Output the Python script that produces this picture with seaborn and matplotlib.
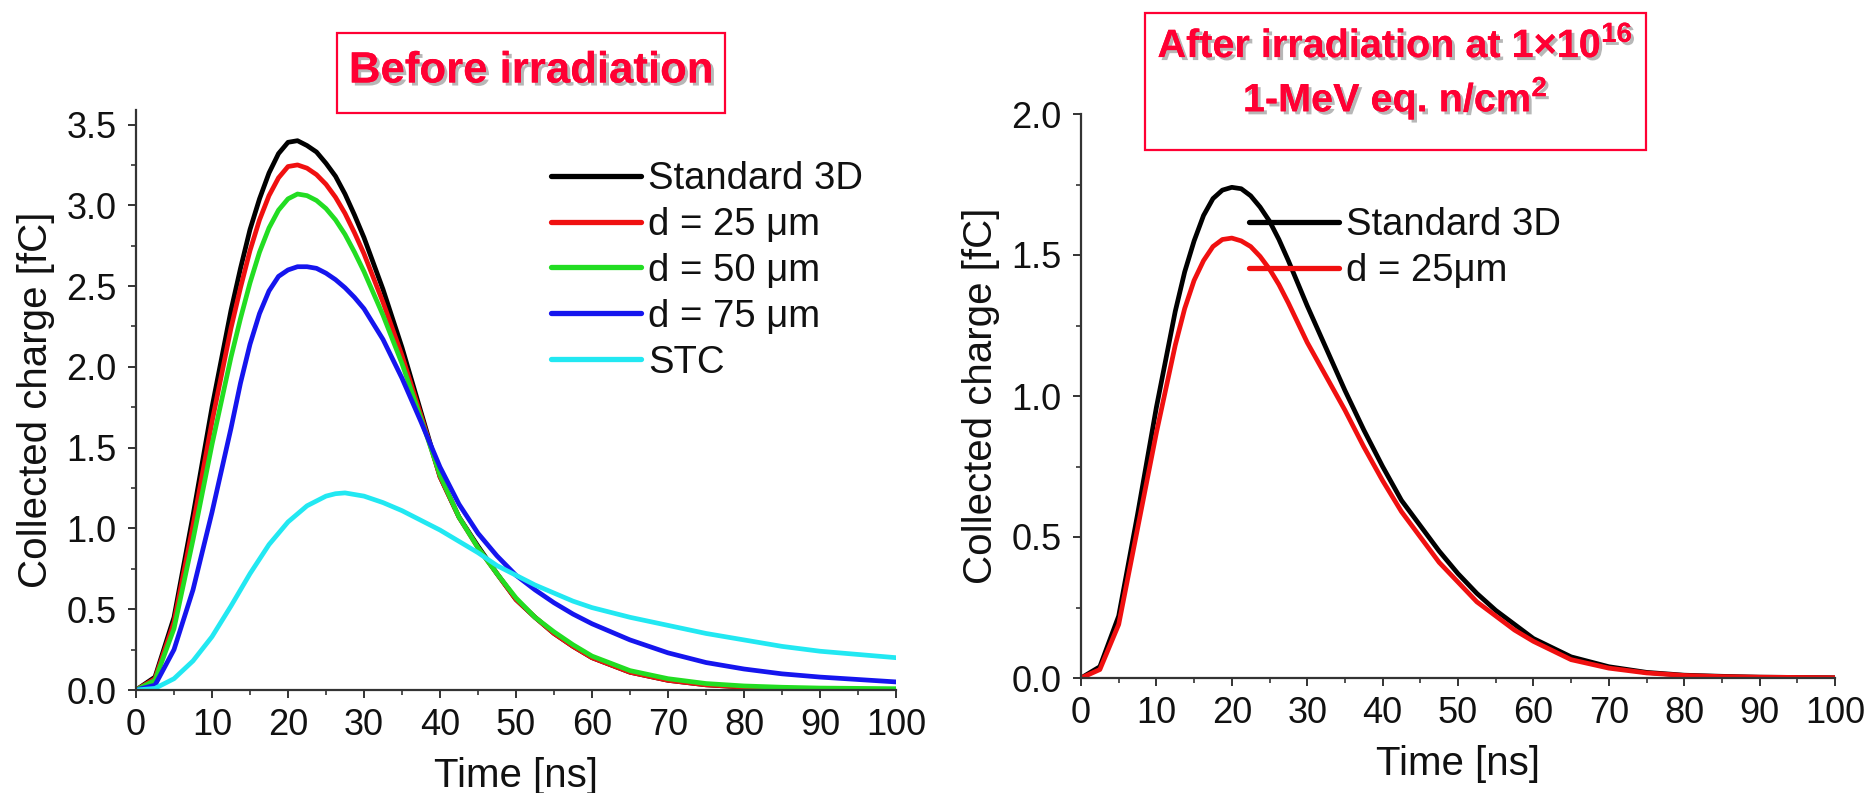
import numpy as np
import pandas as pd
import matplotlib
matplotlib.use("Agg")
import matplotlib.pyplot as plt
import matplotlib.patheffects as pe
from matplotlib.ticker import AutoMinorLocator
import seaborn as sns

# ---------------- data ----------------
time_ns = [0, 2.5, 5, 7.5, 10, 12.5, 13.75, 15, 16.25, 17.5, 18.75, 20, 21.25, 22.5, 23.75, 25, 26.25,
           27.5, 28.75, 30, 32.5, 35, 37.5, 40, 42.5, 45, 47.5, 50, 52.5, 55, 57.5, 60,
           65, 70, 75, 80, 85, 90, 95, 100]

before_std3d = [0, 0.08, 0.45, 1.08, 1.75, 2.35, 2.61, 2.85, 3.04, 3.20, 3.32, 3.39, 3.40, 3.37, 3.33, 3.26, 3.18,
                3.07, 2.94, 2.80, 2.48, 2.12, 1.72, 1.32, 1.07, 0.89, 0.72, 0.56, 0.45, 0.35, 0.27, 0.20,
                0.11, 0.06, 0.032, 0.018, 0.010, 0.006, 0.004, 0.003]
before_d25 = [0, 0.07, 0.42, 1.02, 1.66, 2.24, 2.49, 2.72, 2.91, 3.06, 3.17, 3.24, 3.25, 3.23, 3.19, 3.13, 3.05,
              2.95, 2.83, 2.70, 2.40, 2.07, 1.70, 1.32, 1.07, 0.88, 0.72, 0.56, 0.45, 0.35, 0.27, 0.20,
              0.11, 0.06, 0.032, 0.018, 0.010, 0.006, 0.004, 0.003]
before_d50 = [0, 0.06, 0.38, 0.93, 1.52, 2.06, 2.30, 2.52, 2.71, 2.86, 2.97, 3.04, 3.07, 3.06, 3.03, 2.98, 2.91,
              2.82, 2.71, 2.59, 2.32, 2.02, 1.68, 1.33, 1.07, 0.88, 0.72, 0.57, 0.45, 0.36, 0.28, 0.21,
              0.12, 0.07, 0.04, 0.025, 0.017, 0.012, 0.010, 0.008]
before_d75 = [0, 0.03, 0.25, 0.62, 1.10, 1.62, 1.90, 2.14, 2.33, 2.47, 2.56, 2.60, 2.62, 2.62, 2.61, 2.58, 2.54,
              2.49, 2.43, 2.36, 2.17, 1.93, 1.66, 1.38, 1.15, 0.97, 0.83, 0.71, 0.62, 0.54, 0.47, 0.41,
              0.31, 0.23, 0.17, 0.13, 0.10, 0.08, 0.065, 0.05]
before_stc = [0, 0.01, 0.07, 0.18, 0.33, 0.52, 0.62, 0.72, 0.81, 0.90, 0.97, 1.04, 1.09, 1.14, 1.17, 1.20, 1.215,
              1.22, 1.21, 1.20, 1.16, 1.11, 1.05, 0.99, 0.92, 0.85, 0.77, 0.71, 0.65, 0.60, 0.55, 0.51,
              0.45, 0.40, 0.35, 0.31, 0.27, 0.24, 0.22, 0.20]

after_std3d = [0, 0.04, 0.22, 0.58, 0.96, 1.30, 1.44, 1.55, 1.64, 1.70, 1.73, 1.74, 1.735, 1.71, 1.67, 1.62, 1.555,
               1.48, 1.40, 1.32, 1.17, 1.02, 0.88, 0.75, 0.63, 0.54, 0.45, 0.37, 0.30, 0.24, 0.19, 0.14,
               0.075, 0.04, 0.02, 0.01, 0.006, 0.003, 0.002, 0.001]
after_d25 = [0, 0.03, 0.19, 0.53, 0.87, 1.18, 1.31, 1.41, 1.48, 1.53, 1.555, 1.56, 1.55, 1.53, 1.495, 1.45, 1.395,
             1.33, 1.26, 1.19, 1.07, 0.95, 0.82, 0.70, 0.59, 0.50, 0.41, 0.34, 0.27, 0.22, 0.17, 0.13,
             0.065, 0.035, 0.018, 0.009, 0.005, 0.003, 0.002, 0.001]

labels_before = ["Standard 3D", "d = 25 \u03bcm", "d = 50 \u03bcm", "d = 75 \u03bcm", "STC"]
labels_after = ["Standard 3D", "d = 25\u03bcm"]
colors_before = ["#000000", "#f01010", "#22dd22", "#1515ee", "#22e8f2"]
colors_after = ["#000000", "#f01010"]

x_ticks = list(range(0, 101, 10))
y_ticks_before = [0.0, 0.5, 1.0, 1.5, 2.0, 2.5, 3.0, 3.5]
y_ticks_after = [0.0, 0.5, 1.0, 1.5, 2.0]

title_before = "Before irradiation"
title_after = "After irradiation at 1\u00d710$^{\\mathbf{16}}$\n1-MeV eq. n/cm$^{\\mathbf{2}}$"
xlabel = "Time [ns]"
ylabel = "Collected charge [fC]"

# ---------------- style ----------------
sns.set_style("ticks")
plt.rcParams["font.family"] = ["Liberation Sans", "DejaVu Sans"]
plt.rcParams["mathtext.fontset"] = "custom"
plt.rcParams["mathtext.rm"] = "Liberation Sans"
plt.rcParams["mathtext.bf"] = "Liberation Sans:bold"

df_before = pd.concat([pd.DataFrame({"t": time_ns, "q": v, "series": lab})
                       for v, lab in zip([before_std3d, before_d25, before_d50, before_d75, before_stc], labels_before)])
df_after = pd.concat([pd.DataFrame({"t": time_ns, "q": v, "series": lab})
                      for v, lab in zip([after_std3d, after_d25], labels_after)])

fig = plt.figure(figsize=(18.7, 7.93), dpi=100)
ax1 = fig.add_axes([136 / 1870, (793 - 690) / 793, 760 / 1870, 580 / 793])
ax2 = fig.add_axes([1081 / 1870, (793 - 678) / 793, 754 / 1870, 564 / 793])

sns.lineplot(data=df_before, x="t", y="q", hue="series", hue_order=labels_before,
             palette=dict(zip(labels_before, colors_before)), linewidth=3.4, ax=ax1, sort=False)
sns.lineplot(data=df_after, x="t", y="q", hue="series", hue_order=labels_after,
             palette=dict(zip(labels_after, colors_after)), linewidth=3.4, ax=ax2, sort=False)

for ax, yt, ylim in [(ax1, y_ticks_before, (0, 3.59)), (ax2, y_ticks_after, (0, 2.0))]:
    ax.set_xlim(0, 100)
    ax.set_ylim(*ylim)
    ax.set_xticks(x_ticks)
    ax.set_yticks(yt)
    ax.set_yticklabels([f"{v:.1f}" for v in yt])
    ax.xaxis.set_minor_locator(AutoMinorLocator(2))
    ax.yaxis.set_minor_locator(AutoMinorLocator(2))
    ax.tick_params(axis="both", which="major", direction="out", length=6, width=1.4,
                   labelsize=26, color="#333333", labelcolor="#111111")
    ax.tick_params(axis="y", which="major", pad=8)
    ax.tick_params(axis="x", which="major", pad=7)
    ax.tick_params(axis="both", which="minor", direction="out", length=3.5, width=1.2, color="#333333")
    for s in ["top", "right"]:
        ax.spines[s].set_visible(False)
    for s in ["left", "bottom"]:
        ax.spines[s].set_linewidth(1.6)
        ax.spines[s].set_color("#333333")
    ax.set_xlabel(xlabel, fontsize=29, color="#111111", labelpad=10)
    ax.set_ylabel(ylabel, fontsize=29, color="#111111", labelpad=8)
    ax.patch.set_alpha(0)

leg_kw = dict(frameon=False, fontsize=27.5, handlelength=2.36, handletextpad=0.18, labelspacing=0.26,
              borderpad=0, borderaxespad=0, loc="upper left", bbox_transform=fig.transFigure)
ax1.legend(bbox_to_anchor=(551 / 1870, 1 - 161 / 793), **leg_kw)
ax2.legend(bbox_to_anchor=(1249 / 1870, 1 - 207 / 793), **leg_kw)
for ax in (ax1, ax2):
    for line in ax.get_legend().get_lines():
        line.set_linewidth(3.8)
    for t in ax.get_legend().get_texts():
        t.set_color("#111111")

red = "#ff0033"
shadow = [pe.withSimplePatchShadow(offset=(2.2, -2.2), shadow_rgbFace="#888888", alpha=0.6), pe.Normal()]

# title boxes
fig.patches.append(plt.Rectangle((337 / 1870, 1 - 113 / 793), (725 - 337) / 1870, (113 - 33) / 793,
                                 transform=fig.transFigure, fill=False, edgecolor=red, linewidth=1.6))
fig.patches.append(plt.Rectangle((1145 / 1870, 1 - 150 / 793), (1646 - 1145) / 1870, (150 - 13) / 793,
                                 transform=fig.transFigure, fill=False, edgecolor=red, linewidth=1.6))
fig.text((337 + 725) / 2 / 1870, 1 - 71 / 793, title_before, ha="center", va="center",
         fontsize=31.5, fontweight="bold", color=red, path_effects=shadow)
fig.text((1145 + 1646) / 2 / 1870, 1 - 74 / 793, title_after, ha="center", va="center",
         fontsize=28.5, fontweight="bold", color=red, path_effects=shadow, linespacing=1.25,
         multialignment="center")

fig.savefig("out.png", dpi=100, facecolor="white")
